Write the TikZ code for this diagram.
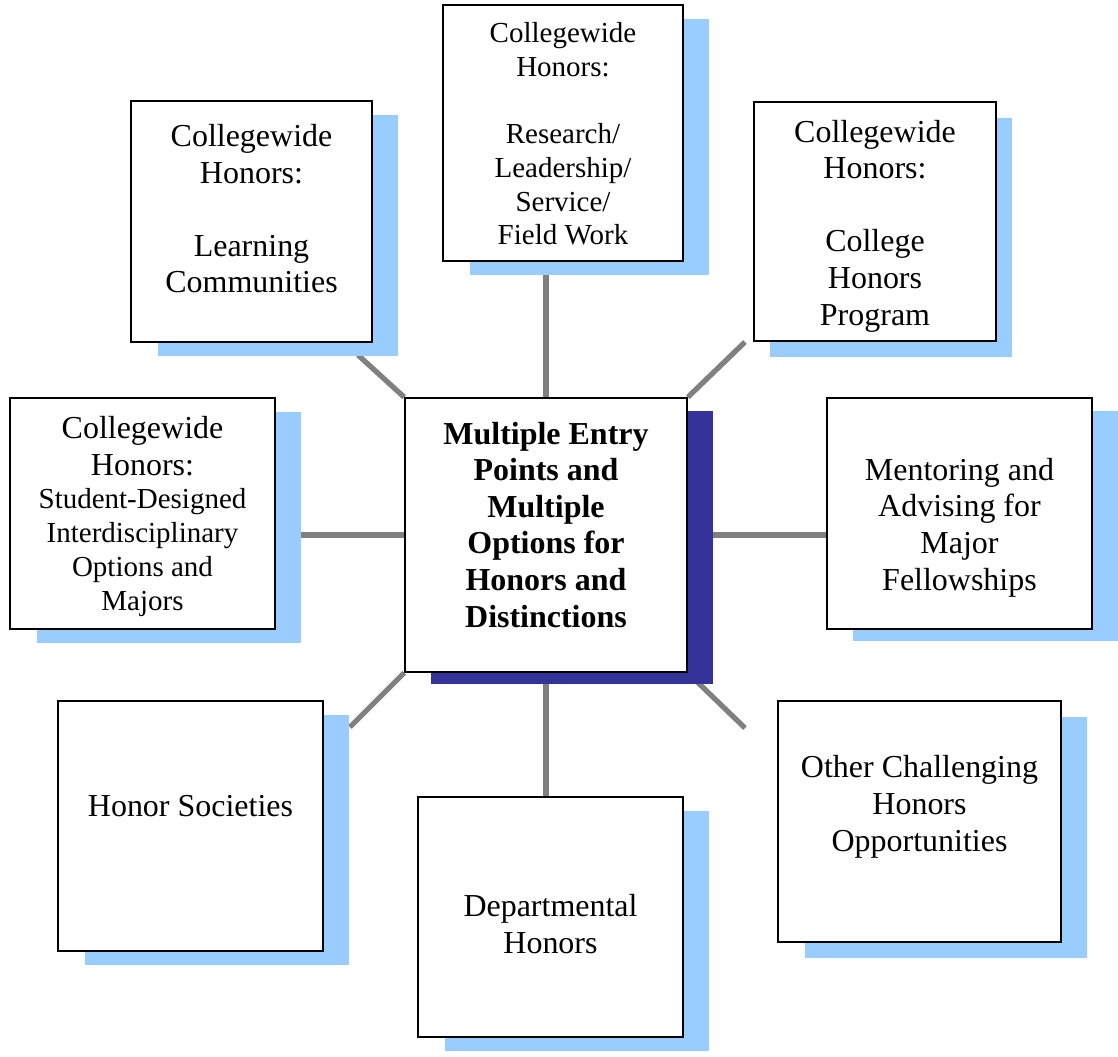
\documentclass[tikz,border=0pt]{standalone}
\usepackage{fontspec}
\setmainfont{Liberation Serif}
\usetikzlibrary{shadows,backgrounds}
\definecolor{skyshade}{HTML}{99CCFF}
\definecolor{navyshade}{HTML}{333399}
\definecolor{linkgray}{HTML}{808080}
\newcommand{\smallfnt}{\fontsize{16.5}{19.3}\selectfont}

\begin{document}
\begin{tikzpicture}[x=0.02cm, y=-0.02cm,
  frame/.style={draw=black, line width=1pt, fill=white, inner sep=0pt},
  shade/.style n args={3}{drop shadow={shadow xshift=#1, shadow yshift=#2, fill=#3, opacity=1}},
  box/.style={frame, shade={0.53cm}{-0.28cm}{skyshade}},
  boxtext/.style={anchor=base, align=center, inner sep=0pt, font=\fontsize{18.2}{20.8}\selectfont},
  link/.style={draw=linkgray, line width=3pt}]
\useasboundingbox (0,0) rectangle (1118,1057);
\node[box, minimum width=4.82cm, minimum height=4.82cm] (lc) at (251.5,221.5) {};
\node[box, minimum width=4.80cm, minimum height=5.12cm] (rl) at (563,133) {};
\node[frame, shade={0.32cm}{-0.32cm}{skyshade}, minimum width=4.84cm, minimum height=4.78cm] (chp) at (875,221.5) {};
\node[box, minimum width=5.30cm, minimum height=4.62cm] (sdi) at (142.5,513.5) {};
\node[frame, shade={0.52cm}{-0.25cm}{navyshade}, minimum width=5.64cm, minimum height=5.48cm] (ctr) at (546,535) {};
\node[frame, shade={0.52cm}{-0.25cm}{skyshade}, minimum width=5.30cm, minimum height=4.62cm] (maf) at (959.5,513.5) {};
\node[box, minimum width=5.30cm, minimum height=5.00cm] (hs) at (190.5,826) {};
\node[box, minimum width=5.30cm, minimum height=4.80cm] (dh) at (550.5,917) {};
\node[frame, shade={0.53cm}{-0.32cm}{skyshade}, minimum width=5.66cm, minimum height=4.82cm] (ocho) at (919.5,821.5) {};
\node[boxtext] (lctext) at (251.5,293) {Collegewide\\Honors:\\[20.8pt]Learning\\Communities};
\node[boxtext, font=\fontsize{16.5}{19.2}\selectfont] (rltext) at (563,245)
  {Collegewide\\Honors:\\[19.2pt]Research/\\Leadership/\\Service/\\Field Work};
\node[boxtext] (chptext) at (875,325) {Collegewide\\Honors:\\[20.8pt]College\\Honors\\Program};
\node[boxtext] (sditext) at (142.5,610) {Collegewide\\Honors:\\[-2pt]{\smallfnt Student-Designed}\\[-1.5pt]{\smallfnt Interdisciplinary}\\[-1.5pt]{\smallfnt Options and}\\[-1.5pt]{\smallfnt Majors}};
\node[boxtext, font=\fontsize{18.2}{20.8}\selectfont\bfseries] (ctrtext) at (546,627)
  {Multiple Entry\\Points and\\Multiple\\Options for\\Honors and\\Distinctions};
\node[boxtext] (maftext) at (959.5,590) {Mentoring and\\Advising for\\Major\\Fellowships};
\node[boxtext] (hstext) at (190.5,816) {Honor Societies};
\node[boxtext] (dhtext) at (550.5,953) {Departmental\\Honors};
\node[boxtext] (ochotext) at (919.5,851) {Other Challenging\\Honors\\Opportunities};
\coordinate (tlend) at (358,355);
\coordinate (trend) at (745,342);
\coordinate (blend) at (350,727);
\coordinate (brend) at (745,728);
\begin{scope}[on background layer]
\foreach \a/\b in {ctr.north west/tlend, ctr.north east/trend, ctr.south west/blend, ctr.south east/brend}
\draw[link] (\a) -- (\b);
\draw[link] (ctr.north) -- (ctr.north |- rl.south);
\draw[link] (ctr.south) -- (ctr.south |- dh.north);
\draw[link] (ctr.west) -- (ctr.west -| sdi.east);
\draw[link] (ctr.east) -- (ctr.east -| maf.west);
\end{scope}
\end{tikzpicture}
\end{document}
